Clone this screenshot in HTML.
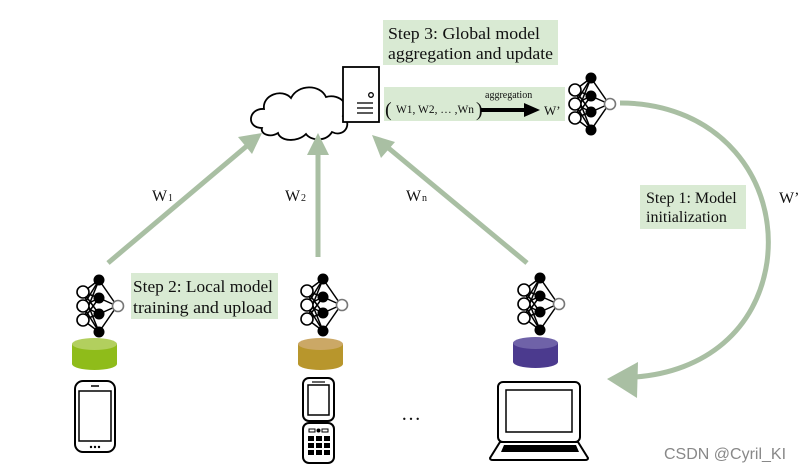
<!DOCTYPE html>
<html><head><meta charset="utf-8"><style>
html,body{margin:0;padding:0;background:#fff;}
svg{display:block;}
text{font-family:"Liberation Serif",serif;fill:#111;}
</style></head><body>
<svg width="812" height="476" viewBox="0 0 812 476" xmlns="http://www.w3.org/2000/svg">
<defs>
<g id="nn">
 <g stroke="#000" stroke-width="1.5">
  <line x1="6" y1="16" x2="22" y2="4"/><line x1="6" y1="16" x2="22" y2="22"/><line x1="6" y1="16" x2="22" y2="38"/><line x1="6" y1="16" x2="22" y2="56"/>
  <line x1="6" y1="30" x2="22" y2="4"/><line x1="6" y1="30" x2="22" y2="22"/><line x1="6" y1="30" x2="22" y2="38"/><line x1="6" y1="30" x2="22" y2="56"/>
  <line x1="6" y1="44" x2="22" y2="4"/><line x1="6" y1="44" x2="22" y2="22"/><line x1="6" y1="44" x2="22" y2="38"/><line x1="6" y1="44" x2="22" y2="56"/>
  <line x1="22" y1="4" x2="40" y2="30"/><line x1="22" y1="22" x2="40" y2="30"/><line x1="22" y1="38" x2="40" y2="30"/><line x1="22" y1="56" x2="40" y2="30"/>
 </g>
 <g stroke="#000" stroke-width="1.6" fill="#fff"><circle cx="6" cy="16" r="6"/><circle cx="6" cy="30" r="6"/><circle cx="6" cy="44" r="6"/></g>
 <g fill="#000"><circle cx="22" cy="4" r="5.5"/><circle cx="22" cy="22" r="5.5"/><circle cx="22" cy="38" r="5.5"/><circle cx="22" cy="56" r="5.5"/></g>
 <circle cx="41" cy="30" r="5.5" fill="#fff" stroke="#777" stroke-width="1.6"/>
</g>
</defs>

<rect x="383" y="20" width="175" height="45" fill="#d9ead3"/>
<text x="388" y="39" font-size="17" textLength="152" lengthAdjust="spacingAndGlyphs">Step 3: Global model</text>
<text x="388" y="59" font-size="17" textLength="165" lengthAdjust="spacingAndGlyphs">aggregation and update</text>

<rect x="384" y="87" width="181" height="34" fill="#d9ead3"/>
<text x="385" y="116" font-size="20">(</text>
<text x="396" y="113" font-size="12" textLength="78" lengthAdjust="spacingAndGlyphs">W1, W2, … ,Wn</text>
<text x="476" y="116" font-size="20">)</text>
<text x="485" y="98" font-size="10">aggregation</text>
<line x1="481" y1="110" x2="528" y2="110" stroke="#000" stroke-width="4"/>
<polygon points="540,110 524,103 524,117" fill="#000"/>
<text x="544" y="115" font-size="13">W’</text>

<path d="M262,128 C246,128 248,108 264,109 C262,95 282,88 291,98 C298,84 320,84 326,97 C340,93 352,106 343,116 C353,124 344,138 332,132 C326,142 311,141 306,134 C297,143 280,141 278,133 C270,138 260,134 262,128 Z" fill="#fff" stroke="#000" stroke-width="1.8"/>
<rect x="343" y="67" width="36" height="55" fill="#fff" stroke="#000" stroke-width="1.8"/>
<circle cx="371" cy="95" r="2.3" fill="none" stroke="#000" stroke-width="1.3"/>
<g stroke="#000" stroke-width="1.3"><line x1="357" y1="103" x2="373" y2="103"/><line x1="357" y1="108" x2="373" y2="108"/><line x1="357" y1="113" x2="373" y2="113"/></g>

<use href="#nn" x="569" y="74"/>

<g stroke="#a9bfa3" stroke-width="5" fill="none">
 <line x1="108" y1="263" x2="248" y2="145"/>
 <line x1="318" y1="257" x2="318" y2="150"/>
 <line x1="527" y1="263" x2="386" y2="146"/>
 <path d="M620,103 C720,103 778,180 767,262 C757,330 705,372 635,377"/>
</g>
<g fill="#a9bfa3">
 <polygon points="262,133 252,154 238,137"/>
 <polygon points="318,133 329,155 307,155"/>
 <polygon points="372,135 395,142 381,158"/>
 <polygon points="607,379 638,362 637,398"/>
</g>
<text x="152" y="201" font-size="16">W</text><text x="168" y="201" font-size="10">1</text>
<text x="285" y="201" font-size="16">W</text><text x="301" y="201" font-size="10">2</text>
<text x="406" y="201" font-size="16">W</text><text x="422" y="201" font-size="10">n</text>
<text x="779" y="203" font-size="16">W’</text>

<rect x="640" y="185" width="106" height="44" fill="#d9ead3"/>
<text x="646" y="203" font-size="16">Step 1: Model</text>
<text x="646" y="222" font-size="16">initialization</text>

<rect x="131" y="273" width="147" height="46" fill="#d9ead3"/>
<text x="133" y="292" font-size="17" textLength="140" lengthAdjust="spacingAndGlyphs">Step 2: Local model</text>
<text x="133" y="313" font-size="17" textLength="139" lengthAdjust="spacingAndGlyphs">training and upload</text>

<use href="#nn" x="77" y="276"/>
<use href="#nn" x="301" y="275"/>
<use href="#nn" x="518" y="274"/>

<g>
 <path d="M72,344 v20 a22.5,6 0 0 0 45,0 v-20 z" fill="#8fbc1a"/>
 <ellipse cx="94.5" cy="344" rx="22.5" ry="6" fill="#b2cf5e"/>
 <path d="M298,344 v20 a22.5,6 0 0 0 45,0 v-20 z" fill="#b8962c"/>
 <ellipse cx="320.5" cy="344" rx="22.5" ry="6" fill="#cba866"/>
 <path d="M513,343 v19 a22.5,6 0 0 0 45,0 v-19 z" fill="#4b3a8e"/>
 <ellipse cx="535.5" cy="343" rx="22.5" ry="6" fill="#6f62a8"/>
</g>

<rect x="75" y="381" width="40" height="71" rx="8" fill="#fff" stroke="#000" stroke-width="2"/>
<rect x="79" y="391" width="32" height="50" fill="#fff" stroke="#000" stroke-width="1.5"/>
<line x1="91" y1="386" x2="99" y2="386" stroke="#000" stroke-width="1.5"/>
<g fill="#000"><circle cx="91" cy="447" r="1.2"/><circle cx="95" cy="447" r="1.2"/><circle cx="99" cy="447" r="1.2"/></g>

<rect x="303" y="378" width="31" height="43" rx="6" fill="#fff" stroke="#000" stroke-width="2"/>
<rect x="308" y="385" width="21" height="30" fill="#fff" stroke="#000" stroke-width="1.5"/>
<line x1="312" y1="382" x2="325" y2="382" stroke="#000" stroke-width="1.2"/>
<rect x="303" y="423" width="31" height="40" rx="6" fill="#fff" stroke="#000" stroke-width="2"/>
<rect x="309" y="429" width="6" height="3" fill="#fff" stroke="#000" stroke-width="1"/>
<rect x="322" y="429" width="6" height="3" fill="#fff" stroke="#000" stroke-width="1"/>
<circle cx="318.5" cy="430.5" r="2" fill="#000"/>
<g fill="#000">
 <rect x="308" y="436" width="6" height="5"/><rect x="316" y="436" width="6" height="5"/><rect x="324" y="436" width="6" height="5"/>
 <rect x="308" y="443" width="6" height="5"/><rect x="316" y="443" width="6" height="5"/><rect x="324" y="443" width="6" height="5"/>
 <rect x="308" y="450" width="6" height="5"/><rect x="316" y="450" width="6" height="5"/><rect x="324" y="450" width="6" height="5"/>
</g>

<text x="401" y="420" font-size="20">…</text>

<rect x="498" y="382" width="82" height="60" rx="5" fill="#fff" stroke="#000" stroke-width="2"/>
<rect x="506" y="390" width="66" height="42" fill="#fff" stroke="#000" stroke-width="1.5"/>
<path d="M500,442 L578,442 L588,458 Q588,460 585,460 L493,460 Q490,460 490,458 Z" fill="#fff" stroke="#000" stroke-width="2"/>
<polygon points="504,445 576,445 579,452 501,452" fill="#000"/>

<text x="664" y="459" font-size="16" style="font-family:'Liberation Sans',sans-serif;fill:#888">CSDN @Cyril_KI</text>
</svg>
</body></html>
